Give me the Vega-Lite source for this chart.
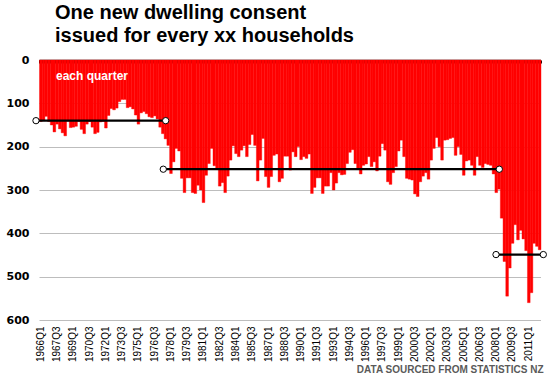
{
  "$schema": "https://vega.github.io/schema/vega-lite/v6.json",
  "width": 501.5,
  "height": 260,
  "autosize": {"type": "none"},
  "padding": {"left": 39, "top": 60, "right": 9.5, "bottom": 55},
  "background": "white",
  "config": {"view": {"stroke": null}},
  "title": {
    "text": ["One new dwelling consent", "issued for every xx households"],
    "anchor": "start",
    "frame": "group",
    "font": "Liberation Sans",
    "fontSize": 20,
    "fontWeight": "bold",
    "color": "black",
    "lineHeight": 23,
    "dx": 16,
    "offset": 8
  },
  "datasets": {
    "bars": [
      {"q":"1966-01-01","v":142},{"q":"1966-04-01","v":140},{"q":"1966-07-01","v":130},{"q":"1966-10-01","v":142},
      {"q":"1967-01-01","v":150},{"q":"1967-04-01","v":166},{"q":"1967-07-01","v":148},{"q":"1967-10-01","v":159},
      {"q":"1968-01-01","v":168},{"q":"1968-04-01","v":175},{"q":"1968-07-01","v":141},{"q":"1968-10-01","v":156},
      {"q":"1969-01-01","v":155},{"q":"1969-04-01","v":153},{"q":"1969-07-01","v":142},{"q":"1969-10-01","v":160},
      {"q":"1970-01-01","v":170},{"q":"1970-04-01","v":148},{"q":"1970-07-01","v":142},{"q":"1970-10-01","v":155},
      {"q":"1971-01-01","v":170},{"q":"1971-04-01","v":167},{"q":"1971-07-01","v":143},{"q":"1971-10-01","v":142},
      {"q":"1972-01-01","v":157},{"q":"1972-04-01","v":128},{"q":"1972-07-01","v":112},{"q":"1972-10-01","v":115},
      {"q":"1973-01-01","v":111},{"q":"1973-04-01","v":96},{"q":"1973-07-01","v":91},{"q":"1973-10-01","v":91},
      {"q":"1974-01-01","v":110},{"q":"1974-04-01","v":108},{"q":"1974-07-01","v":113},{"q":"1974-10-01","v":127},
      {"q":"1975-01-01","v":148},{"q":"1975-04-01","v":122},{"q":"1975-07-01","v":119},{"q":"1975-10-01","v":124},
      {"q":"1976-01-01","v":131},{"q":"1976-04-01","v":133},{"q":"1976-07-01","v":129},{"q":"1976-10-01","v":136},
      {"q":"1977-01-01","v":155},{"q":"1977-04-01","v":170},{"q":"1977-07-01","v":182},{"q":"1977-10-01","v":197},
      {"q":"1978-01-01","v":262},{"q":"1978-04-01","v":235},{"q":"1978-07-01","v":204},{"q":"1978-10-01","v":210},
      {"q":"1979-01-01","v":273},{"q":"1979-04-01","v":306},{"q":"1979-07-01","v":272},{"q":"1979-10-01","v":272},
      {"q":"1980-01-01","v":306},{"q":"1980-04-01","v":308},{"q":"1980-07-01","v":289},{"q":"1980-10-01","v":300},
      {"q":"1981-01-01","v":329},{"q":"1981-04-01","v":266},{"q":"1981-07-01","v":239},{"q":"1981-10-01","v":204},
      {"q":"1982-01-01","v":244},{"q":"1982-04-01","v":251},{"q":"1982-07-01","v":291},{"q":"1982-10-01","v":283},
      {"q":"1983-01-01","v":306},{"q":"1983-04-01","v":268},{"q":"1983-07-01","v":231},{"q":"1983-10-01","v":198},
      {"q":"1984-01-01","v":216},{"q":"1984-04-01","v":223},{"q":"1984-07-01","v":208},{"q":"1984-10-01","v":198},
      {"q":"1985-01-01","v":223},{"q":"1985-04-01","v":195},{"q":"1985-07-01","v":172},{"q":"1985-10-01","v":197},
      {"q":"1986-01-01","v":279},{"q":"1986-04-01","v":231},{"q":"1986-07-01","v":181},{"q":"1986-10-01","v":269},
      {"q":"1987-01-01","v":294},{"q":"1987-04-01","v":269},{"q":"1987-07-01","v":220},{"q":"1987-10-01","v":217},
      {"q":"1988-01-01","v":281},{"q":"1988-04-01","v":273},{"q":"1988-07-01","v":222},{"q":"1988-10-01","v":222},
      {"q":"1989-01-01","v":254},{"q":"1989-04-01","v":212},{"q":"1989-07-01","v":223},{"q":"1989-10-01","v":200},
      {"q":"1990-01-01","v":230},{"q":"1990-04-01","v":223},{"q":"1990-07-01","v":227},{"q":"1990-10-01","v":217},
      {"q":"1991-01-01","v":308},{"q":"1991-04-01","v":294},{"q":"1991-07-01","v":272},{"q":"1991-10-01","v":272},
      {"q":"1992-01-01","v":308},{"q":"1992-04-01","v":291},{"q":"1992-07-01","v":291},{"q":"1992-10-01","v":260},
      {"q":"1993-01-01","v":300},{"q":"1993-04-01","v":284},{"q":"1993-07-01","v":260},{"q":"1993-10-01","v":265},
      {"q":"1994-01-01","v":264},{"q":"1994-04-01","v":239},{"q":"1994-07-01","v":213},{"q":"1994-10-01","v":207},
      {"q":"1995-01-01","v":239},{"q":"1995-04-01","v":250},{"q":"1995-07-01","v":263},{"q":"1995-10-01","v":243},
      {"q":"1996-01-01","v":240},{"q":"1996-04-01","v":223},{"q":"1996-07-01","v":246},{"q":"1996-10-01","v":235},
      {"q":"1997-01-01","v":256},{"q":"1997-04-01","v":222},{"q":"1997-07-01","v":193},{"q":"1997-10-01","v":208},
      {"q":"1998-01-01","v":281},{"q":"1998-04-01","v":287},{"q":"1998-07-01","v":260},{"q":"1998-10-01","v":246},
      {"q":"1999-01-01","v":210},{"q":"1999-04-01","v":185},{"q":"1999-07-01","v":223},{"q":"1999-10-01","v":273},
      {"q":"2000-01-01","v":275},{"q":"2000-04-01","v":277},{"q":"2000-07-01","v":309},{"q":"2000-10-01","v":315},
      {"q":"2001-01-01","v":281},{"q":"2001-04-01","v":268},{"q":"2001-07-01","v":260},{"q":"2001-10-01","v":275},
      {"q":"2002-01-01","v":231},{"q":"2002-04-01","v":204},{"q":"2002-07-01","v":179},{"q":"2002-10-01","v":200},
      {"q":"2003-01-01","v":231},{"q":"2003-04-01","v":185},{"q":"2003-07-01","v":184},{"q":"2003-10-01","v":181},
      {"q":"2004-01-01","v":179},{"q":"2004-04-01","v":220},{"q":"2004-07-01","v":200},{"q":"2004-10-01","v":218},
      {"q":"2005-01-01","v":266},{"q":"2005-04-01","v":233},{"q":"2005-07-01","v":231},{"q":"2005-10-01","v":243},
      {"q":"2006-01-01","v":266},{"q":"2006-04-01","v":223},{"q":"2006-07-01","v":243},{"q":"2006-10-01","v":248},
      {"q":"2007-01-01","v":239},{"q":"2007-04-01","v":241},{"q":"2007-07-01","v":243},{"q":"2007-10-01","v":263},
      {"q":"2008-01-01","v":306},{"q":"2008-04-01","v":298},{"q":"2008-07-01","v":365},{"q":"2008-10-01","v":465},
      {"q":"2009-01-01","v":545},{"q":"2009-04-01","v":480},{"q":"2009-07-01","v":423},{"q":"2009-10-01","v":380},
      {"q":"2010-01-01","v":415},{"q":"2010-04-01","v":393},{"q":"2010-07-01","v":413},{"q":"2010-10-01","v":440},
      {"q":"2011-01-01","v":560},{"q":"2011-04-01","v":537},{"q":"2011-07-01","v":423},{"q":"2011-10-01","v":430},
      {"q":"2012-01-01","v":438}
    ],
    "avg": [
      {"seg":"1966-1977","d":"1965-09-21","v":140},
      {"seg":"1966-1977","d":"1977-09-07","v":140},
      {"seg":"1977-2008","d":"1977-06-18","v":252},
      {"seg":"1977-2008","d":"2008-06-13","v":252},
      {"seg":"2008-2012","d":"2008-02-23","v":449},
      {"seg":"2008-2012","d":"2012-07-05","v":449}
    ],
    "note": [
      {"d":"1967-07-27","v":45,"t":"each quarter"}
    ]
  },
  "resolve": {"scale": {"x": "shared", "y": "shared"}, "axis": {"x": "independent", "y": "independent"}},
  "layer": [
    {
      "data": {"name": "bars"},
      "mark": {"type": "bar", "color": "#ff0000", "binSpacing": 0, "stroke": "#ff0000", "strokeWidth": 0.4},
      "encoding": {
        "x": {
          "field": "q", "timeUnit": "utcyearquarter", "type": "temporal",
          "scale": {"type": "utc", "domain": [{"year": 1966, "month": 1, "date": 1, "utc": true}, {"year": 2012, "month": 4, "date": 1, "utc": true}]},
          "axis": {
            "orient": "bottom", "title": "DATA SOURCED FROM STATISTICS NZ",
            "titleAnchor": "end", "titleAlign": "right", "titleX": 504, "titleFont": "Liberation Sans", "titleFontSize": 10,
            "titleFontWeight": "bold", "titleColor": "#5a5a5a", "titlePadding": 3,
            "domain": false, "ticks": false, "grid": false,
            "labelAngle": -90, "labelFont": "Liberation Sans", "labelFontSize": 10, "labelColor": "black",
            "labelPadding": 6, "labelOverlap": false, "labelBound": false, "labelFlush": false,
            "labelExpr": "utcyear(datum.value) + 'Q' + utcquarter(datum.value)",
            "values": [
              {"year":1966,"month":2,"date":15,"utc":true},{"year":1967,"month":8,"date":15,"utc":true},
              {"year":1969,"month":2,"date":15,"utc":true},{"year":1970,"month":8,"date":15,"utc":true},
              {"year":1972,"month":2,"date":15,"utc":true},{"year":1973,"month":8,"date":15,"utc":true},
              {"year":1975,"month":2,"date":15,"utc":true},{"year":1976,"month":8,"date":15,"utc":true},
              {"year":1978,"month":2,"date":15,"utc":true},{"year":1979,"month":8,"date":15,"utc":true},
              {"year":1981,"month":2,"date":15,"utc":true},{"year":1982,"month":8,"date":15,"utc":true},
              {"year":1984,"month":2,"date":15,"utc":true},{"year":1985,"month":8,"date":15,"utc":true},
              {"year":1987,"month":2,"date":15,"utc":true},{"year":1988,"month":8,"date":15,"utc":true},
              {"year":1990,"month":2,"date":15,"utc":true},{"year":1991,"month":8,"date":15,"utc":true},
              {"year":1993,"month":2,"date":15,"utc":true},{"year":1994,"month":8,"date":15,"utc":true},
              {"year":1996,"month":2,"date":15,"utc":true},{"year":1997,"month":8,"date":15,"utc":true},
              {"year":1999,"month":2,"date":15,"utc":true},{"year":2000,"month":8,"date":15,"utc":true},
              {"year":2002,"month":2,"date":15,"utc":true},{"year":2003,"month":8,"date":15,"utc":true},
              {"year":2005,"month":2,"date":15,"utc":true},{"year":2006,"month":8,"date":15,"utc":true},
              {"year":2008,"month":2,"date":15,"utc":true},{"year":2009,"month":8,"date":15,"utc":true},
              {"year":2011,"month":2,"date":15,"utc":true}
            ]
          }
        },
        "y": {
          "field": "v", "type": "quantitative",
          "scale": {"domain": [0, 600], "reverse": true, "nice": false},
          "axis": {
            "title": null, "values": [0, 100, 200, 300, 400, 500, 600],
            "domain": false, "ticks": false, "grid": true, "gridColor": "#bdbdbd", "gridWidth": 1,
            "labelFont": "DejaVu Sans", "labelFontSize": 11, "labelFontWeight": "bold", "labelColor": "black",
            "labelPadding": 10
          }
        }
      }
    },
    {
      "data": {"name": "note"},
      "mark": {"type": "text", "align": "left", "baseline": "alphabetic", "font": "Liberation Sans", "fontSize": 12, "fontWeight": "bold", "color": "white"},
      "encoding": {
        "x": {"field": "d", "type": "temporal", "axis": null},
        "y": {"field": "v", "type": "quantitative", "axis": null},
        "text": {"field": "t"}
      }
    },
    {
      "data": {"name": "avg"},
      "mark": {"type": "line", "color": "black", "strokeWidth": 2.2, "clip": false},
      "encoding": {
        "x": {
          "field": "d", "type": "temporal",
          "axis": {
            "orient": "top", "title": null, "labels": false, "grid": false,
            "domain": true, "domainColor": "black", "domainWidth": 1.5,
            "ticks": true, "tickColor": "black", "tickSize": -3, "tickWidth": 1,
            "tickCount": {"interval": "month", "step": 3}
          }
        },
        "y": {"field": "v", "type": "quantitative", "axis": null},
        "detail": {"field": "seg"}
      }
    },
    {
      "data": {"name": "avg"},
      "mark": {"type": "point", "shape": "circle", "filled": true, "fill": "white", "stroke": "black", "strokeWidth": 1, "size": 40, "opacity": 1, "clip": false},
      "encoding": {
        "x": {"field": "d", "type": "temporal", "axis": null},
        "y": {"field": "v", "type": "quantitative", "axis": null}
      }
    }
  ]
}
